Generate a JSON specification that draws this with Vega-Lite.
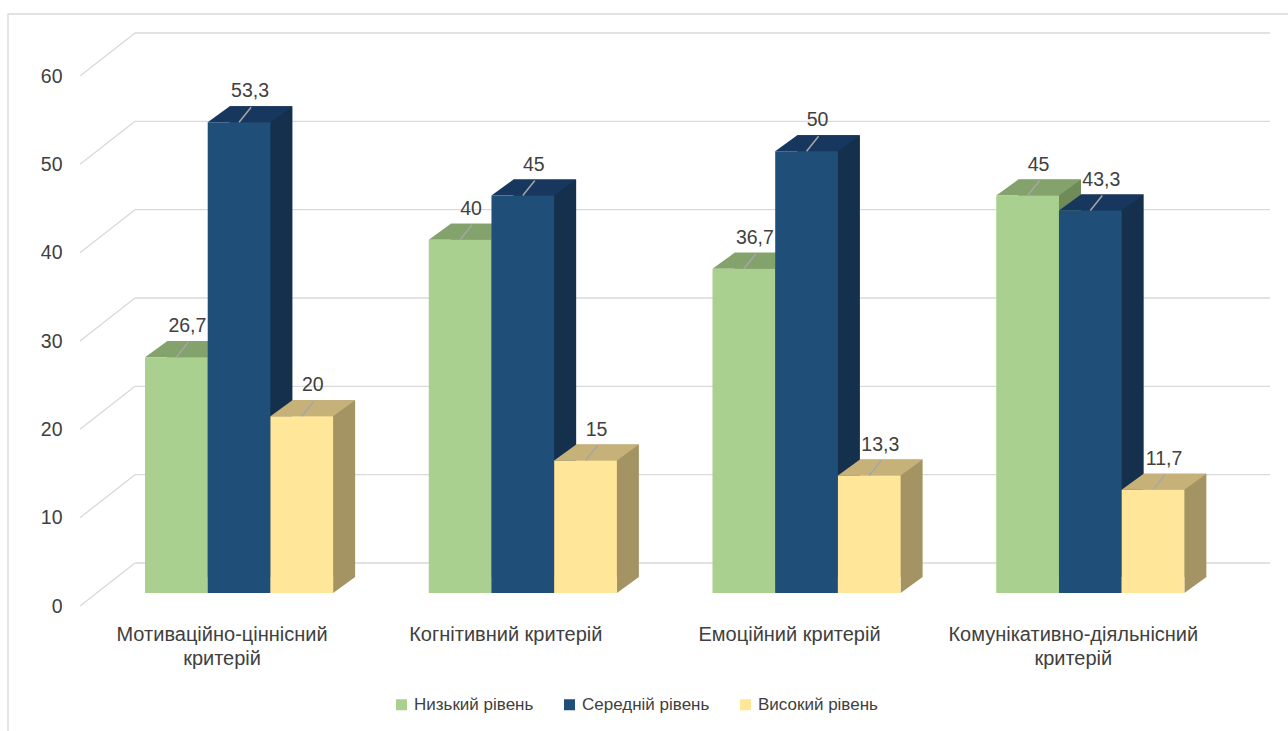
{
  "$schema": "https://vega.github.io/schema/vega-lite/v6.json",
  "width": 1135,
  "height": 530,
  "autosize": {"type": "none"},
  "padding": {"left": 135, "top": 63, "right": 18, "bottom": 138},
  "background": "white",
  "config": {
    "view": {"stroke": null},
    "font": "Liberation Sans",
    "locale": {"number": {"decimal": ",", "thousands": " ", "grouping": [3], "currency": ["", " ₴"]}}
  },
  "datasets": {
    "bars": [
      {"criterion": "Мотиваційно-ціннісний критерій", "level": "Низький рівень", "value": 26.7},
      {"criterion": "Мотиваційно-ціннісний критерій", "level": "Середній рівень", "value": 53.3},
      {"criterion": "Мотиваційно-ціннісний критерій", "level": "Високий рівень", "value": 20},
      {"criterion": "Когнітивний критерій", "level": "Низький рівень", "value": 40},
      {"criterion": "Когнітивний критерій", "level": "Середній рівень", "value": 45},
      {"criterion": "Когнітивний критерій", "level": "Високий рівень", "value": 15},
      {"criterion": "Емоційний критерій", "level": "Низький рівень", "value": 36.7},
      {"criterion": "Емоційний критерій", "level": "Середній рівень", "value": 50},
      {"criterion": "Емоційний критерій", "level": "Високий рівень", "value": 13.3},
      {"criterion": "Комунікативно-діяльнісний критерій", "level": "Низький рівень", "value": 45},
      {"criterion": "Комунікативно-діяльнісний критерій", "level": "Середній рівень", "value": 43.3},
      {"criterion": "Комунікативно-діяльнісний критерій", "level": "Високий рівень", "value": 11.7}
    ],
    "ticks": [{"tick": 0}, {"tick": 10}, {"tick": 20}, {"tick": 30}, {"tick": 40}, {"tick": 50}, {"tick": 60}],
    "frame": [{"k": "frame"}]
  },
  "layer": [
    {
      "data": {"name": "frame"},
      "mark": {"type": "point", "shape": "M-0.1191,0.6409L-0.1191,-0.0426L1,-0.0426", "size": 5290000, "filled": false, "stroke": "#d9d9d9", "strokeWidth": 1.3, "opacity": 1},
      "encoding": {
        "x": {"datum": "Мотиваційно-ціннісний критерій", "type": "nominal", "bandPosition": 0},
        "y": {"datum": 60, "type": "quantitative", "scale": {"domain": [0, 60], "nice": false}, "axis": null}
      }
    },
    {
      "data": {"name": "ticks"},
      "mark": {"type": "rule", "color": "#d9d9d9", "strokeWidth": 1.3},
      "encoding": {
        "y": {"field": "tick", "type": "quantitative", "scale": {"domain": [-3.396, 56.604], "zero": false, "nice": false}, "axis": null}
      }
    },
    {
      "data": {"name": "ticks"},
      "mark": {"type": "point", "shape": "M-1,0.2L-0.1538,-0.4615", "size": 16900, "filled": false, "stroke": "#d9d9d9", "strokeWidth": 1.3, "opacity": 1},
      "encoding": {
        "x": {"datum": "Мотиваційно-ціннісний критерій", "type": "nominal", "bandPosition": 0},
        "y": {"field": "tick", "type": "quantitative", "scale": {"domain": [0, 60], "nice": false}, "axis": null}
      }
    },
    {
      "data": {"name": "bars"},
      "mark": {"type": "bar"},
      "encoding": {
        "x": {"field": "criterion", "type": "nominal"},
        "xOffset": {"field": "level", "type": "nominal", "scale": {"type": "band", "domain": ["Низький рівень", "Середній рівень", "Високий рівень"], "range": [22, 210.12], "paddingInner": 0, "paddingOuter": 0}},
        "y": {"field": "value", "type": "quantitative", "scale": {"domain": [-1.811, 58.189], "zero": false, "nice": false}, "axis": null},
        "color": {"field": "level", "type": "nominal", "scale": {"domain": ["Низький рівень", "Середній рівень", "Високий рівень"], "range": ["#6f8c58", "#15304d", "#a49463"]}, "legend": null}
      }
    },
    {
      "data": {"name": "bars"},
      "mark": {"type": "point", "shape": "M0.5876,-0.2999L0.5876,0L1,-0.2999Z", "size": 11385, "filled": true, "opacity": 1, "strokeWidth": 0},
      "encoding": {
        "x": {"field": "criterion", "type": "nominal"},
        "xOffset": {"field": "level", "type": "nominal", "scale": {"type": "band", "domain": ["Низький рівень", "Середній рівень", "Високий рівень"], "paddingInner": 0, "paddingOuter": 0}},
        "y": {"datum": 0, "type": "quantitative", "scale": {"domain": [0, 60], "nice": false}, "axis": null},
        "color": {"field": "level", "type": "nominal", "scale": {"domain": ["Низький рівень", "Середній рівень", "Високий рівень"], "range": ["#6f8c58", "#15304d", "#a49463"]}, "legend": null}
      }
    },
    {
      "data": {"name": "bars"},
      "mark": {"type": "point", "shape": "M-0.5876,0L0.5876,0L1,-0.2999L-0.1753,-0.2999Z", "size": 11385, "filled": true, "opacity": 1, "strokeWidth": 0},
      "encoding": {
        "x": {"field": "criterion", "type": "nominal"},
        "xOffset": {"field": "level", "type": "nominal", "scale": {"type": "band", "domain": ["Низький рівень", "Середній рівень", "Високий рівень"], "paddingInner": 0, "paddingOuter": 0}},
        "y": {"field": "value", "type": "quantitative", "scale": {"domain": [0, 60], "nice": false}, "axis": null},
        "color": {"field": "level", "type": "nominal", "scale": {"domain": ["Низький рівень", "Середній рівень", "Високий рівень"], "range": ["#84a26b", "#17375e", "#c6b278"]}, "legend": null}
      }
    },
    {
      "data": {"name": "bars"},
      "mark": {"type": "bar"},
      "encoding": {
        "x": {
          "field": "criterion", "type": "nominal",
          "scale": {"domain": ["Мотиваційно-ціннісний критерій", "Когнітивний критерій", "Емоційний критерій", "Комунікативно-діяльнісний критерій"], "paddingInner": 0.337, "paddingOuter": 0.1685, "align": 0.1046},
          "axis": {
            "title": null, "domain": false, "ticks": false, "labelPadding": 31, "labelOffset": -17,
            "labelFontSize": 20, "labelColor": "#404040", "labelLimit": 400, "labelLineHeight": 24,
            "labelAngle": 0, "labelBaseline": "top", "labelAlign": "center",
            "labelExpr": "datum.label == 'Мотиваційно-ціннісний критерій' ? ['Мотиваційно-ціннісний', 'критерій'] : datum.label == 'Комунікативно-діяльнісний критерій' ? ['Комунікативно-діяльнісний', 'критерій'] : datum.label"
          }
        },
        "xOffset": {"field": "level", "type": "nominal", "scale": {"type": "band", "domain": ["Низький рівень", "Середній рівень", "Високий рівень"], "paddingInner": 0, "paddingOuter": 0}},
        "y": {
          "field": "value", "type": "quantitative",
          "scale": {"domain": [0, 60], "nice": false},
          "axis": {"values": [0, 10, 20, 30, 40, 50, 60], "title": null, "domain": false, "ticks": false, "grid": false, "labelPadding": 73, "labelOffset": 13, "labelFontSize": 19.5, "labelColor": "#404040"}
        },
        "color": {
          "field": "level", "type": "nominal",
          "scale": {"domain": ["Низький рівень", "Середній рівень", "Високий рівень"], "range": ["#a9d08e", "#1f4e79", "#ffe699"]},
          "legend": {"title": null, "orient": "none", "legendX": 258, "legendY": 633, "direction": "horizontal", "symbolType": "square", "symbolSize": 121, "symbolStrokeWidth": 0, "labelFontSize": 17, "labelColor": "#404040", "columnPadding": 27, "labelOffset": 4, "padding": 0}
        }
      }
    },
    {
      "data": {"name": "bars"},
      "mark": {"type": "point", "shape": "M0,0L0.8,-1", "size": 900, "filled": false, "stroke": "#a6a6a6", "strokeWidth": 1.5, "opacity": 1},
      "encoding": {
        "x": {"field": "criterion", "type": "nominal"},
        "xOffset": {"field": "level", "type": "nominal", "scale": {"type": "band", "domain": ["Низький рівень", "Середній рівень", "Високий рівень"], "paddingInner": 0, "paddingOuter": 0}},
        "y": {"field": "value", "type": "quantitative", "scale": {"domain": [0, 60], "nice": false}, "axis": null}
      }
    },
    {
      "data": {"name": "bars"},
      "mark": {"type": "text", "dx": 11, "dy": -31, "align": "center", "baseline": "middle", "fontSize": 19.5, "color": "#404040"},
      "encoding": {
        "x": {"field": "criterion", "type": "nominal"},
        "xOffset": {"field": "level", "type": "nominal", "scale": {"type": "band", "domain": ["Низький рівень", "Середній рівень", "Високий рівень"], "paddingInner": 0, "paddingOuter": 0}},
        "y": {"field": "value", "type": "quantitative", "scale": {"domain": [0, 60], "nice": false}, "axis": null},
        "text": {"field": "value", "type": "quantitative", "format": ".3~r"}
      }
    }
  ],
  "resolve": {"scale": {"y": "independent", "xOffset": "independent", "color": "independent"}}
}
